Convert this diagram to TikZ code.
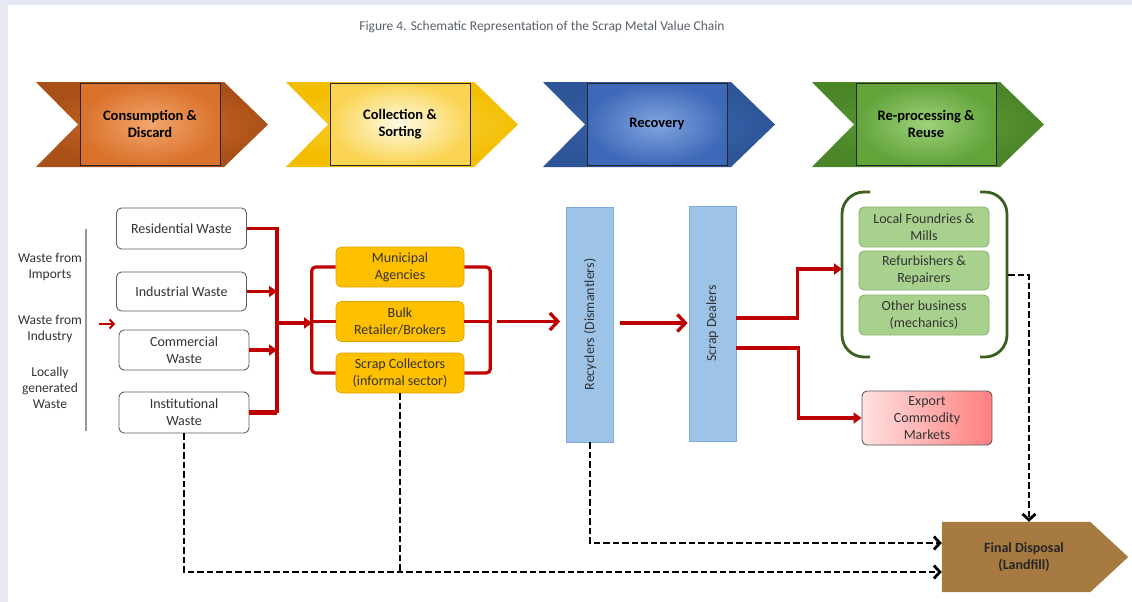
\documentclass[tikz,border=0pt]{standalone}
\usepackage{fontspec}
\setmainfont{Carlito}
\usetikzlibrary{arrows.meta,calc}
\definecolor{redc}{HTML}{C00000}
\definecolor{strip}{HTML}{E6E9F3}
\definecolor{txtg}{HTML}{333333}
\definecolor{titleg}{HTML}{5A5F6E}
\definecolor{ydark}{HTML}{F3BE00}
\definecolor{ymid}{HTML}{FAD452}
\definecolor{ylight}{HTML}{FFFBE6}
\definecolor{odark}{HTML}{A94F18}
\definecolor{omid}{HTML}{D9722C}
\definecolor{olight}{HTML}{F2A66C}
\definecolor{bdark}{HTML}{2D5597}
\definecolor{bmid}{HTML}{3E69B8}
\definecolor{blight}{HTML}{82A5E0}
\definecolor{gdark}{HTML}{4A8527}
\definecolor{gmid}{HTML}{62A33A}
\definecolor{glight}{HTML}{9DD27B}
\definecolor{collorange}{HTML}{FFC000}
\definecolor{recblue}{HTML}{9DC3E6}
\definecolor{recbord}{HTML}{7FAADC}
\definecolor{greenbox}{HTML}{A9D18E}
\definecolor{greenbord}{HTML}{86B06A}
\definecolor{brgreen}{HTML}{3A5F1E}
\definecolor{brown}{HTML}{A67A40}
\newcommand\boxfont{\fontsize{14}{17}\selectfont}
\newcommand\leftfont{\fontsize{13.5}{16}\selectfont}
\newcommand\chevfont{\fontsize{14.5}{17}\selectfont\bfseries}
\newcommand\mychev[6]{%
  \shade[inner color=#3, outer color=#2] (#1,82) -- (#1+188,82) -- (#1+232,124.5) -- (#1+188,167) -- (#1,167) -- (#1+42,124.5) -- cycle;
  \node[chrect, inner color=#4, outer color=#3] (#5) at (#1+114,124) {#6};
}
\begin{document}
\begin{tikzpicture}[x=1pt,y=-1pt,
  chrect/.style={draw=black!85, line width=1pt, minimum width=140pt, minimum height=82pt, align=center, font=\chevfont, text=black},
  wbox/.style={draw=gray!75!black, line width=0.9pt, rounded corners=5pt, fill=white, minimum width=130pt, minimum height=40pt, align=center, font=\boxfont, text=txtg},
  ybox/.style={draw=collorange!85!black, line width=0.6pt, rounded corners=5pt, fill=collorange, minimum width=128pt, minimum height=40pt, align=center, font=\boxfont, text=txtg},
  vbox/.style={draw=recbord, line width=0.8pt, fill=recblue, minimum width=47pt, minimum height=235pt, align=center, font=\boxfont, text=txtg},
  gbox/.style={draw=greenbord, line width=0.8pt, rounded corners=5pt, fill=greenbox, minimum width=130pt, minimum height=40pt, align=center, font=\boxfont, text=txtg},
  redl/.style={draw=redc, line width=3.2pt},
  redarr/.style={draw=redc, line width=3.2pt, -{Triangle[length=8pt,width=11pt]}},
  redbarb/.style={draw=redc, line width=3.3pt, -{Straight Barb[length=8pt,width=17pt]}},
  dashl/.style={draw=black, line width=2.8pt, dash pattern=on 6.5pt off 3pt},
  dasharr/.style={dashl, -{Straight Barb[length=6pt,width=13pt]}},
  lefttxt/.style={align=center, font=\leftfont, text=txtg},
]
\useasboundingbox (0,0) rectangle (1132,602);
\fill[white] (0,0) rectangle (1132,602);
\fill[strip] (0,0) rectangle (1132,5);
\fill[strip] (0,0) rectangle (8,602);

% title
\node[font=\fontsize{13.5}{16}\selectfont, text=titleg] (title) at (542,27) {Figure 4. Schematic Representation of the Scrap Metal Value Chain};

% chevrons
\mychev{36}{odark}{omid}{olight}{c1}{Consumption \&\\Discard}
\mychev{286}{ydark}{ymid}{ylight}{c2}{Collection \&\\Sorting}
\mychev{543}{bdark}{bmid}{blight}{c3}{Recovery}
\mychev{812}{gdark}{gmid}{glight}{c4}{Re-processing \&\\Reuse}

% left column
\draw[gray!80, line width=1.2pt] (86,229) -- (86,431);
\node[lefttxt] (l1) at (50,267) {Waste from\\Imports};
\node[lefttxt] (l2) at (50,329) {Waste from\\Industry};
\node[lefttxt] (l3) at (50,388) {Locally\\generated\\Waste};
\coordinate (sa) at (99,324);
\coordinate (sb) at (115,324);
\draw[draw=redc, line width=2pt, -{Straight Barb[length=4pt,width=9pt]}] (sa) -- (sb);

% consumption boxes
\node[wbox, minimum height=41pt] (res) at (181.5,228.5) {Residential Waste};
\node[wbox, minimum height=39pt] (ind) at (181.5,291.5) {Industrial Waste};
\node[wbox] (com) at (184,350) {Commercial\\Waste};
\node[wbox, minimum height=41pt] (ins) at (184,412.5) {Institutional\\Waste};

\coordinate (busb) at (277,412.5);
\coordinate (busm) at (277,323);
\coordinate (colL) at (312,323);
\draw[redl] (res.east) -| (busb);
\draw[redl, line width=4.5pt] (ins.east) -- (busb);
\draw[redarr] (ind.east) -- (ind.east -| busb);
\draw[redarr] (com.east) -- (com.east -| busb);
\draw[redarr] (busm) -- (colL);

% collection boxes
\node[ybox] (mun) at (400,267) {Municipal\\Agencies};
\node[ybox] (bulk) at (400,321.5) {Bulk\\Retailer/Brokers};
\node[ybox] (scr) at (400,373) {Scrap Collectors\\(informal sector)};
\draw[redl, rounded corners=4pt] (mun.west) -- ++(-24,0) |- (scr.west);
\draw[redl] (bulk.west) -- ++(-24,0);
\draw[redl, rounded corners=4pt] (mun.east) -- ++(26,0) |- (scr.east);
\draw[redl] (bulk.east) -- ++(26,0);

% recovery
\node[vbox] (rec) at (590,324.5) {\rotatebox{90}{Recyclers (Dismantlers)}};
\node[vbox] (sd) at (712.5,323.5) {\rotatebox{90}{Scrap Dealers}};
\coordinate (colR) at (497,321.5);
\draw[redbarb, shorten >=6pt] (colR) -- (rec.west |- colR);
\draw[redbarb, shorten <=6pt, shorten >=1pt] (rec.east |- 0,323) -- (sd.west |- 0,323);

% reprocessing
\node[gbox] (lf) at (924,227) {Local Foundries \&\\Mills};
\node[gbox, minimum height=39pt] (rr) at (924,270.5) {Refurbishers \&\\Repairers};
\node[gbox] (ob) at (924,315) {Other business\\(mechanics)};
\draw[brgreen, line width=2.8pt, rounded corners=22pt] (870,192) -- (842,192) -- (842,357) -- (870,357);
\draw[brgreen, line width=2.8pt, rounded corners=22pt] (980,192) -- (1007,192) -- (1007,357) -- (980,357);
\coordinate (brL) at (842,269);
\coordinate (brR) at (1008,275);

\node[draw=gray!70!black, line width=0.9pt, rounded corners=5pt, left color=red!12, right color=red!50!white, minimum width=130pt, minimum height=54pt, align=center, font=\boxfont, text=txtg] (exp) at (927,418) {Export\\Commodity\\Markets};

\draw[redarr] (sd.east |- 0,318) -- ++(61,0) |- (brL);
\draw[redarr] (sd.east |- 0,348) -- ++(62,0) |- (exp.west);

% final disposal
\node[minimum width=148pt, minimum height=70pt, inner sep=0pt] (fd) at (1016,557) {};
\fill[brown] (fd.north west) -- (fd.north east) -- ($(fd.east)+(38,0)$) -- (fd.south east) -- (fd.south west) -- cycle;
\node[align=center, font=\fontsize{14}{17}\selectfont\bfseries, text=black!85] (fdt) at (1024,557) {Final Disposal\\(Landfill)};

% dashed flows
\draw[dasharr] (ins.south) -- (ins.south |- 0,572) -- (fd.west |- 0,572);
\draw[dashl] (scr.south) -- (scr.south |- 0,572);
\draw[dasharr] (rec.south) |- (fd.west |- 0,543);
\draw[dasharr] (brR) -- (brR -| 1029,0) -- (fd.north -| 1029,0);
\end{tikzpicture}
\end{document}
